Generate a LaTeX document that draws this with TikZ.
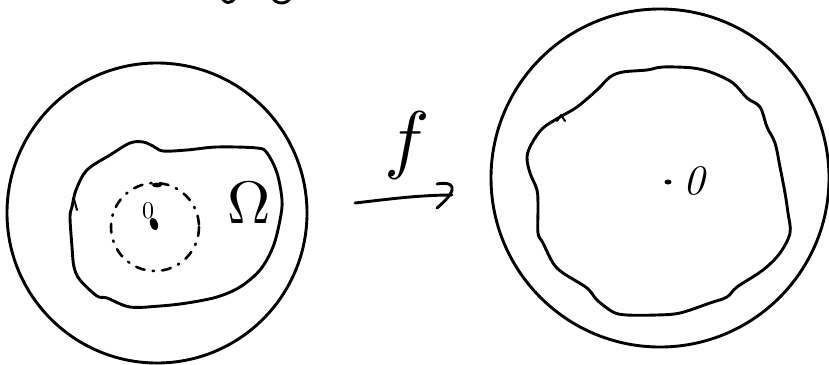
\documentclass[tikz,border=0pt]{standalone}
\usetikzlibrary{calc}
\begin{document}
\begin{tikzpicture}[x=1pt,y=-1pt,
  ink/.style={line width=2.9pt,line cap=round,line join=round,black},
  dashring/.style={line width=2.6pt,line cap=round,dash pattern=on 9pt off 8pt on 1.5pt off 8pt},
  lbl/.style={inner sep=0pt,outer sep=0pt}]
\useasboundingbox (0,0) rectangle (829,364);
\clip (0,0) rectangle (829,364);
\fill[white] (0,0) rectangle (829,364);
% cut-off writing at top
\draw[ink] (221,-4) .. controls (224,4) and (232,5) .. (235,-3);
\draw[ink] (272,-3) .. controls (276,5) and (287,5) .. (291,-3);
% left disc
\node[ink,draw,circle,minimum size=300pt,inner sep=0pt] (ldisc) at (157,213) {};
\draw[ink] plot[smooth cycle,tension=0.55] coordinates {
 (76,190) (87,170) (110,155) (130,143) (143,142) (153,146) (163,151)
 (187,150) (217,147) (257,148) (267,153) (277,173) (282,200) (280,220)
 (273,247) (260,270) (240,287) (217,297) (187,303) (160,306) (130,307)
 (107,298) (97,296) (80,280) (74,267) (72,247) (70,217) (72,207)};
\draw[ink,line width=2pt] (74,199) -- (77,210);
% dashed disc
\draw[dashring] (155,227) circle[radius=44];
\fill (157,185) ellipse[x radius=5,y radius=2.4];
% point 0
\node[lbl] (zl) at (148,211) {\scalebox{2.4}{0}};
\fill[rotate around={20:(154,224)}] (154,224) ellipse[x radius=3.8,y radius=6.5];
% Omega
\node[lbl] (om) at (249,203) {\scalebox{6}{$\Omega$}};
% map f
\node[lbl] (fl) at (407,145) {\scalebox{7.6}{$f$}};
\coordinate (as) at (355,203);
\coordinate (ae) at (452,195);
\draw[ink] (as) .. controls (390,199) and (420,195) .. (ae);
\draw[ink] (437,184) .. controls (452,181) and (462,187) .. (437,208);
% right disc
\node[ink,draw,circle,minimum size=338pt,inner sep=0pt] (rdisc) at (660,178) {};
\draw[ink] plot[smooth cycle,tension=0.55] coordinates {
 (560,117) (577,107) (597,90) (610,77) (623,72) (647,70) (663,67) (693,68)
 (713,73) (733,83) (747,98) (760,107) (767,127) (775,143) (780,167)
 (785,193) (788,213) (790,233) (780,253) (763,270) (737,287) (727,297)
 (710,303) (680,313) (657,315) (627,315) (613,312) (597,300) (587,288)
 (563,273) (553,263) (543,243) (538,233) (538,207) (537,190) (530,173)
 (527,157) (532,143) (543,128)};
\draw[ink,line width=2pt] (557,121) -- (561,115) -- (565,121);
\fill (668,182) ellipse[x radius=3.5,y radius=2.5];
\node[lbl] (zr) at (694,181) {\scalebox{4.2}{\itshape 0}};
\end{tikzpicture}
\end{document}
